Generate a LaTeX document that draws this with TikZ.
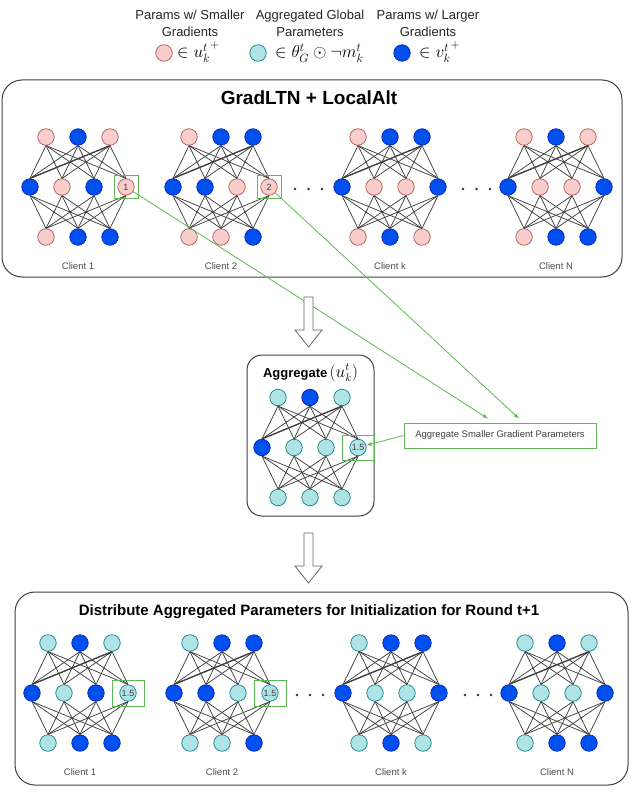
\documentclass[tikz,border=0pt]{standalone}
\usepackage[no-math]{fontspec}
\setmainfont{Liberation Sans}
\usepackage{xcolor}
\usetikzlibrary{arrows}
\definecolor{pinkfill}{RGB}{248,206,204}
\definecolor{pinkline}{RGB}{184,84,80}
\definecolor{tealfill}{RGB}{176,227,230}
\definecolor{tealline}{RGB}{14,128,136}
\definecolor{bluefill}{RGB}{0,80,239}
\definecolor{blueline}{RGB}{0,29,188}
\definecolor{mygreen}{RGB}{96,184,84}

\tikzset{
  neuron/.style={circle, minimum size=16.5pt, inner sep=0pt, line width=0.7pt},
  pinkn/.style={neuron, fill=pinkfill, draw=pinkline},
  tealn/.style={neuron, fill=tealfill, draw=tealline},
  bluen/.style={neuron, fill=bluefill, draw=blueline},
  netedge/.style={draw=black!75, line width=0.75pt},
  clientlbl/.style={font=\fontsize{9.5}{11}\selectfont, text=black!70},
  numtext/.style={font=\fontsize{9}{10}\selectfont, text=black!75, inner sep=0pt},
  greenbox/.style={draw=mygreen, line width=0.9pt, inner sep=0pt},
  greenline/.style={draw=mygreen, line width=0.8pt, -latex},
  panel/.style={draw=black!75, line width=1pt},
  hollow/.style={draw=black!60, fill=white, line width=0.8pt},
  legtext/.style={align=center, font=\fontsize{13}{17}\selectfont, text=black!85},
  legmath/.style={anchor=base west, inner sep=0pt, font=\fontsize{18}{20}\selectfont},
}

\begin{document}
\begin{tikzpicture}[x=1pt,y=-1pt]
\fill[white] (0,0) rectangle (631,810);
\useasboundingbox (0,0) rectangle (631,810);

%legend
\node[legtext] (leg1) at (190,23.5) {Params w/ Smaller\\Gradients};
\node[legtext] (leg2) at (310,23.5) {Aggregated Global\\Parameters};
\node[legtext] (leg3) at (428,23.5) {Params w/ Larger\\Gradients};
\node[pinkn] (legpink) at (164,53) {};
\node[tealn] (legteal) at (258,53) {};
\node[bluen] (legblue) at (402,53) {};
\node[legmath] (legu) at (177,58) {$\in {u_k^t}^{+}$};
\node[legmath] (legth) at (275,58) {$\in \theta_G^t \odot \neg m_k^t$};
\node[legmath] (legv) at (419,58) {$\in {v_k^t}^{+}$};

%panels
\draw[panel, rounded corners=20pt] (2,80) rectangle (622,277);
\draw[panel, rounded corners=15pt] (247,355) rectangle (374,516);
\draw[panel, rounded corners=20pt] (15,592) rectangle (628,785);
\node[font=\bfseries\fontsize{19}{22}\selectfont] (ttop) at (309,98) {GradLTN + LocalAlt};
\node[font=\bfseries\fontsize{13}{15}\selectfont, anchor=base, inner sep=1pt] (tagg) at (310.5,377) {Aggregate\,{\fontsize{16}{18}\selectfont$(u_k^t)$}};
\node[font=\bfseries\fontsize{15}{18}\selectfont] (tbot) at (309,612) {Distribute Aggregated Parameters for Initialization for Round t+1};

%networks
\foreach \nm/\ox/\oy/\ta/\tb/\tc/\ma/\mb/\mc/\md/\ba/\bb/\bc in {
  c1/30/187/pinkn/bluen/pinkn/bluen/pinkn/bluen/pinkn/pinkn/bluen/bluen,
  c2/173/187/pinkn/bluen/bluen/bluen/bluen/pinkn/pinkn/pinkn/pinkn/bluen,
  ck/342/187/pinkn/bluen/bluen/bluen/pinkn/pinkn/bluen/pinkn/bluen/pinkn,
  cN/508/187/pinkn/bluen/pinkn/bluen/pinkn/pinkn/bluen/pinkn/bluen/bluen,
  ag/262/447.5/tealn/bluen/tealn/bluen/tealn/tealn/tealn/tealn/tealn/tealn,
  d1/32/693/tealn/bluen/tealn/bluen/tealn/bluen/tealn/tealn/bluen/bluen,
  d2/174/693/tealn/bluen/bluen/bluen/bluen/tealn/tealn/tealn/tealn/bluen,
  dk/343/693/tealn/bluen/bluen/bluen/tealn/tealn/bluen/tealn/bluen/tealn,
  dN/509/693/tealn/bluen/tealn/bluen/tealn/tealn/bluen/tealn/bluen/bluen}
{
  \node[\ta] (\nm-t1) at (\ox+16,\oy-50) {};
  \node[\tb] (\nm-t2) at (\ox+48,\oy-50) {};
  \node[\tc] (\nm-t3) at (\ox+80,\oy-50) {};
  \node[\ma] (\nm-m1) at (\ox,\oy) {};
  \node[\mb] (\nm-m2) at (\ox+32,\oy) {};
  \node[\mc] (\nm-m3) at (\ox+64,\oy) {};
  \node[\md] (\nm-m4) at (\ox+96,\oy) {};
  \node[\ba] (\nm-b1) at (\ox+16,\oy+50) {};
  \node[\bb] (\nm-b2) at (\ox+48,\oy+50) {};
  \node[\bc] (\nm-b3) at (\ox+80,\oy+50) {};
  \foreach \i in {1,2,3}{
    \foreach \j in {1,2,3,4}{
      \draw[netedge] (\nm-t\i.south) -- (\nm-m\j.north);
      \draw[netedge] (\nm-m\j.south) -- (\nm-b\i.north);
    }
  }
  \draw[netedge, line width=1.3pt] (\nm-t3.south) -- (\nm-m1.north);
}

\foreach \nm/\lab in {c1/Client 1, c2/Client 2, ck/Client k, cN/Client N,
                      d1/Client 1, d2/Client 2, dk/Client k, dN/Client N}
  \node[clientlbl] (\nm-lbl) at ([xshift=48pt,yshift=-79pt]\nm-m1) {\lab};

%dots between clients
\foreach \dx in {295,308.5,322,463,476.5,490}
  \fill[black!80] (\dx,189) circle (1.3pt);
\foreach \dx in {297,310,323,465,478,491}
  \fill[black!80] (\dx,695) circle (1.3pt);

%values and green marks
\node[numtext] (n1) at (c1-m4) {1};
\node[numtext] (n2) at (c2-m4) {2};
\node[numtext] (n3) at (ag-m4) {1.5};
\node[numtext] (n4) at (d1-m4) {1.5};
\node[numtext] (n5) at (d2-m4) {1.5};
\node[greenbox, minimum width=24pt, minimum height=23pt] (gb1) at (c1-m4) {};
\node[greenbox, minimum width=24pt, minimum height=23pt] (gb2) at (c2-m4) {};
\node[greenbox, minimum width=32pt, minimum height=25pt] (gb3) at (ag-m4) {};
\node[greenbox, minimum width=32pt, minimum height=26pt] (gb4) at (d1-m4) {};
\node[greenbox, minimum width=32pt, minimum height=26pt] (gb5) at (d2-m4) {};
\node[greenbox, minimum width=192pt, minimum height=25pt, font=\fontsize{9.5}{11}\selectfont, text=black!75] (aggtext) at (500,435.5) {Aggregate Smaller Gradient Parameters};

\draw[greenline] (c1-m4) -- ([xshift=-12pt,yshift=4pt]aggtext.north);
\draw[greenline] (c2-m4) -- ([xshift=19pt,yshift=4pt]aggtext.north);
\draw[greenline] (aggtext.west) -- (ag-m4);

%hollow arrows
\foreach \ay in {297,533}
  \draw[hollow] (304,\ay) -- ++(9,0) -- ++(0,33) -- ++(9,0) -- ++(-13.5,17) -- ++(-13.5,-17) -- ++(9,0) -- cycle;
\end{tikzpicture}
\end{document}
